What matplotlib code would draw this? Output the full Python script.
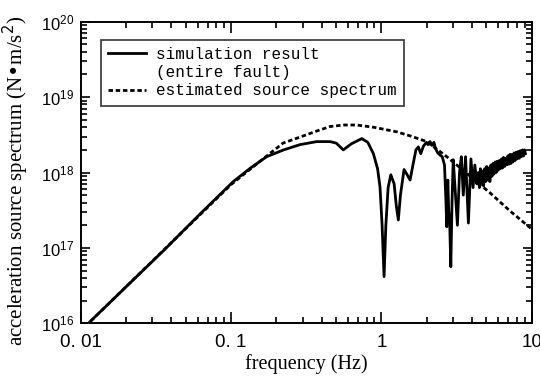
import matplotlib
matplotlib.use("Agg")
import matplotlib.pyplot as plt
from matplotlib.lines import Line2D
import numpy as np

# values (log10 units)
# simulation result (entire fault)
log_f_sim = [-2.0, -1.949, -1.446, -1.206, -0.985, -0.87, -0.763, -0.65, -0.541,
             -0.43, -0.341, -0.30, -0.253, -0.20, -0.13, -0.09, -0.053, -0.025,
             -0.009, 0.005, 0.018, 0.030, 0.045, 0.063, 0.085, 0.100, 0.113,
             0.127, 0.151, 0.172, 0.191, 0.215, 0.230, 0.246, 0.262, 0.280,
             0.300, 0.310, 0.324, 0.336, 0.350, 0.360, 0.375, 0.391, 0.405,
             0.420, 0.430, 0.435, 0.442, 0.448, 0.455, 0.462, 0.470, 0.478,
             0.490, 0.506, 0.520, 0.532, 0.545, 0.560, 0.579, 0.596, 0.610,
             0.622, 0.635,
             0.645, 0.652, 0.659, 0.666, 0.673, 0.680, 0.687, 0.694, 0.701,
             0.708, 0.715, 0.722, 0.729, 0.736, 0.743, 0.750, 0.757, 0.764,
             0.771, 0.778, 0.785, 0.792, 0.799, 0.806, 0.813, 0.820, 0.827,
             0.834, 0.841, 0.848, 0.855, 0.862, 0.869, 0.876, 0.883, 0.890,
             0.897, 0.904, 0.911, 0.918, 0.925, 0.932, 0.939, 0.946, 0.953,
             0.958]
log_a_sim = [15.90, 16.00, 16.97, 17.45, 17.88, 18.06, 18.21, 18.30, 18.37,
             18.41, 18.41, 18.39, 18.30, 18.38, 18.45, 18.40, 18.25, 18.05,
             17.81, 17.30, 16.62, 17.30, 17.80, 17.97, 17.85, 17.55, 17.37,
             17.70, 18.04, 17.97, 17.90, 18.15, 18.30, 18.34, 18.25, 18.35,
             18.40, 18.37, 18.41, 18.36, 18.40, 18.32, 18.26, 18.23, 18.21,
             18.10, 17.60, 17.28, 17.90, 17.50, 17.30, 16.75, 17.60, 18.17,
             17.80, 17.30, 18.00, 18.21, 17.70, 18.21, 17.33, 18.18, 17.80,
             18.10, 17.85,
             18.00, 17.80, 18.05, 17.85, 18.02, 17.82, 18.05, 17.88, 18.08,
             17.90, 18.06, 17.88, 18.10, 17.95, 18.12, 17.98, 18.14, 18.00,
             18.15, 18.03, 18.16, 18.05, 18.18, 18.06, 18.20, 18.08, 18.19,
             18.10, 18.22, 18.11, 18.24, 18.12, 18.24, 18.14, 18.26, 18.16,
             18.27, 18.18, 18.28, 18.19, 18.29, 18.21, 18.30, 18.22, 18.30,
             18.25]

# estimated source spectrum
log_f_est = [-2.0, -1.5, -1.0, -0.8, -0.654, -0.541, -0.43, -0.341, -0.25,
             -0.164, -0.05, 0.102, 0.20, 0.302, 0.435, 0.568, 0.723, 0.85, 1.0]
log_a_est = [15.90, 16.87, 17.84, 18.16, 18.39, 18.47, 18.55, 18.61, 18.63,
             18.63, 18.60, 18.54, 18.48, 18.41, 18.21, 17.99, 17.73, 17.50, 17.25]

x_ticks = [0.01, 0.1, 1, 10]
x_tick_labels = ["0. 01", "0. 1", "1", "10"]

f_sim = 10.0 ** np.array(log_f_sim)
a_sim = 10.0 ** np.array(log_a_sim)
f_est = 10.0 ** np.array(log_f_est)
a_est = 10.0 ** np.array(log_a_est)

fig = plt.figure(figsize=(5.4, 3.81), dpi=100)
ax = fig.add_axes([0.1494, 0.1514, 0.8352, 0.7916])

sim_line, = ax.plot(f_sim, a_sim, color="black", lw=2.0)
est_line, = ax.plot(f_est, a_est, color="black", lw=2.0, dashes=(1.6, 1.0))

ax.set_xscale("log")
ax.set_yscale("log")
ax.set_xlim(0.01, 10)
ax.set_ylim(1e16, 1e20)

ax.set_xticks(x_ticks, labels=x_tick_labels)
ax.tick_params(which="both", direction="in", top=True, right=True, width=1.2)
ax.tick_params(axis="x", which="major", length=8, labelsize=13.5, pad=8)
ax.tick_params(axis="y", which="major", length=6.5, labelsize=12, pad=5)
ax.tick_params(which="minor", length=4)
for lab in ax.get_xticklabels():
    lab.set_family("Liberation Sans")
for lab in ax.get_yticklabels():
    lab.set_family("Liberation Sans")
for sp in ax.spines.values():
    sp.set_linewidth(1.4)

ax.set_xlabel("frequency (Hz)", family="Liberation Serif", fontsize=14.5, labelpad=2)
ax.set_ylabel("acceleration source spectrum (N\u2022m/s$^2$)", family="Liberation Serif",
              fontsize=15)
ax.yaxis.set_label_coords(-0.111, 0.472)

# second legend row carries no handle, as in the reference
blank = Line2D([], [], color="none")
leg = ax.legend([sim_line, blank, est_line],
                ["simulation result", "(entire fault)", "estimated source spectrum"],
                loc="upper left", bbox_to_anchor=(0.045, 0.94),
                prop={"family": "Liberation Mono", "size": 11.5},
                frameon=True, fancybox=False, edgecolor="black",
                handlelength=2.4, borderpad=0.45, labelspacing=0.2,
                handletextpad=0.6, borderaxespad=0)
leg.get_frame().set_linewidth(1.2)

fig.savefig("out.png", dpi=100)
